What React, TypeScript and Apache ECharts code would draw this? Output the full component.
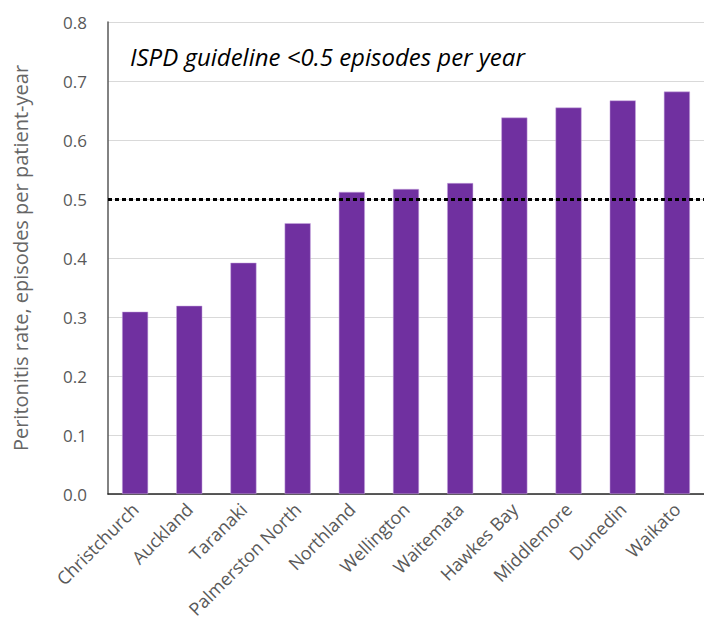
import React, { useEffect, useRef } from "react";
import * as echarts from "echarts";

const categories = [
  "Christchurch",
  "Auckland",
  "Taranaki",
  "Palmerston North",
  "Northland",
  "Wellington",
  "Waitemata",
  "Hawkes Bay",
  "Middlemore",
  "Dunedin",
  "Waikato",
];
const rates = [0.309, 0.319, 0.392, 0.459, 0.512, 0.517, 0.527, 0.638, 0.655, 0.667, 0.682];
const guideline = 0.504;
const yTicks = [0, 0.1, 0.2, 0.3, 0.4, 0.5, 0.6, 0.7, 0.8];
const annotation = "ISPD guideline <0.5 episodes per year";
const yTitle = "Peritonitis rate, episodes per patient-year";

export default function App() {
  const ref = useRef<HTMLDivElement>(null);
  useEffect(() => {
    if (!ref.current) return;
    const chart = echarts.init(ref.current, null, { renderer: "svg" });
    const font = "'Open Sans', sans-serif";
    chart.setOption({
      animation: false,
      textStyle: { fontFamily: font },
      grid: { left: 108, right: 0, top: 22, bottom: 137, containLabel: false },
      xAxis: {
        type: "category",
        data: categories,
        axisLine: { show: true, lineStyle: { color: "#262626", width: 1.5 } },
        axisTick: { show: false },
        axisLabel: {
          rotate: 45,
          interval: 0,
          fontSize: 18,
          color: "#595959",
          fontFamily: font,
          margin: 12,
        },
      },
      yAxis: {
        type: "value",
        min: yTicks[0],
        max: yTicks[yTicks.length - 1],
        interval: 0.1,
        name: yTitle,
        nameLocation: "middle",
        nameGap: 78,
        nameTextStyle: { fontSize: 20, color: "#666666", fontFamily: font },
        axisLine: { show: true, lineStyle: { color: "#595959", width: 1.5 } },
        axisTick: { show: false },
        axisLabel: {
          fontSize: 17,
          color: "#595959",
          margin: 21,
          fontFamily: font,
          formatter: (v: number) => v.toFixed(1),
        },
        splitLine: { show: true, lineStyle: { color: "#d9d9d9", width: 1 } },
      },
      series: [
        {
          type: "bar",
          data: rates,
          barWidth: "48%",
          itemStyle: { color: "#7030a0", borderColor: "#c9a9e0", borderWidth: 0.5 },
          markLine: {
            silent: true,
            symbol: "none",
            label: { show: false },
            lineStyle: { color: "#000", type: [4, 3], width: 3 },
            data: [{ yAxis: guideline }],
          },
        },
      ],
      graphic: [
        {
          type: "text",
          x: 130,
          y: 56,
          style: {
            text: annotation,
            fontSize: 24,
            fontStyle: "italic",
            fill: "#000",
            fontFamily: font,
            verticalAlign: "middle",
          },
        },
      ],
    });
    return () => chart.dispose();
  }, []);
  return <div ref={ref} style={{ width: 704, height: 631, position: "absolute", left: 0, top: 0 }} />;
}
